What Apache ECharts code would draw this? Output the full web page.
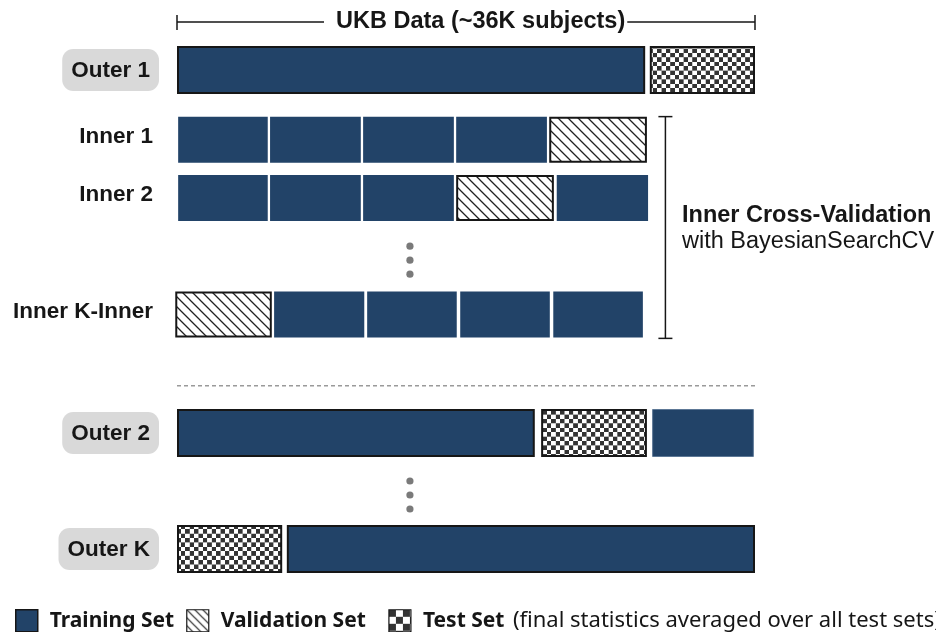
<!DOCTYPE html>
<html><head><meta charset="utf-8">
<script src="https://cdn.jsdelivr.net/npm/echarts@6/dist/echarts.min.js"></script>
<style>html,body{margin:0;padding:0;background:#fff}#c{width:936px;height:632px}</style>
</head><body><div id="c"></div>
<script>
// ---------- data ----------
const topRows = ['Outer 1'];
const innerRows = ['Inner 1', 'Inner 2', '⋮', 'Inner K-Inner'];
const bottomRows = ['Outer 2', '⋮', 'Outer K'];
// [row, start (% of data), end (% of data)]
const trainingSegments = [
  ['Outer 1', 0, 81.0],
  ['Inner 1', 0.2, 15.7], ['Inner 1', 16.1, 31.8], ['Inner 1', 32.2, 47.9], ['Inner 1', 48.3, 64.0],
  ['Inner 2', 0.2, 15.7], ['Inner 2', 16.1, 31.8], ['Inner 2', 32.2, 47.9], ['Inner 2', 65.7, 81.5],
  ['Inner K-Inner', 16.8, 32.4], ['Inner K-Inner', 32.9, 48.4], ['Inner K-Inner', 49.0, 64.5], ['Inner K-Inner', 65.1, 80.6],
  ['Outer 2', 0, 61.9], ['Outer 2', 82.2, 99.8],
  ['Outer K', 19.0, 100]
];
const validationSegments = [
  ['Inner 1', 64.4, 81.3], ['Inner 2', 48.3, 65.2], ['Inner K-Inner', -0.3, 16.4]
];
const testSegments = [
  ['Outer 1', 81.8, 100], ['Outer 2', 63.0, 81.3], ['Outer K', 0, 18.2]
];
const ellipsisX = 40.3;
const innerBracketX = 84.5;
const legendNames = ['Training Set', 'Validation Set', 'Test Set'];
const legendNote = '(final statistics averaged over all test sets)';
const dataTitle = 'UKB Data (~36K subjects)';
const innerCVTitle = 'Inner Cross-Validation';
const innerCVSub = 'with BayesianSearchCV';

// ---------- styles ----------
const NAVY = '#224368';
const INK = '#161616';
function makeChecker(cell) {
  const c = document.createElement('canvas'); c.width = c.height = cell * 2;
  const g = c.getContext('2d'); g.fillStyle = '#fff'; g.fillRect(0, 0, cell * 2, cell * 2);
  g.fillStyle = '#333'; g.fillRect(0, 0, cell, cell); g.fillRect(cell, cell, cell, cell);
  return c;
}
function makeHatch(s, lw) {
  const c = document.createElement('canvas'); c.width = c.height = s;
  const g = c.getContext('2d'); g.fillStyle = '#fff'; g.fillRect(0, 0, s, s);
  g.strokeStyle = '#222'; g.lineWidth = lw; g.beginPath();
  g.moveTo(-1, -1); g.lineTo(s + 1, s + 1);
  g.moveTo(s - 2, -2); g.lineTo(s + 2, 2);
  g.moveTo(-2, s - 2); g.lineTo(2, s + 2);
  g.stroke();
  return c;
}
const checkerFill = { image: makeChecker(9), repeat: 'repeat', scaleX: 0.49, scaleY: 0.49 };
const checkerIcon = { image: makeChecker(7), repeat: 'repeat' };
const hatchFill = { image: makeHatch(10, 1.3), repeat: 'repeat' };
const hatchIcon = { image: makeHatch(8, 1.2), repeat: 'repeat' };

const FONT = 'Liberation Sans';
const grids = [
  { rows: topRows, top: 40, height: 60, outer: true },
  { rows: innerRows, top: 110.5, height: 233, outer: false },
  { rows: bottomRows, top: 404, height: 174, outer: true }
];

const typeDefs = [
  { name: legendNames[0], segs: trainingSegments, kind: 'train' },
  { name: legendNames[1], segs: validationSegments, kind: 'val' },
  { name: legendNames[2], segs: testSegments, kind: 'test' }
];

function segRender(kind, outer) {
  return function (params, api) {
    const s = api.coord([api.value(0), api.value(2)]);
    const e = api.coord([api.value(1), api.value(2)]);
    const h = outer ? 48 : 46;
    let style, lw = 0;
    if (kind === 'train') {
      const fullSpan = outer && (api.value(0) <= 0.01 || api.value(1) >= 99.99);
      lw = outer ? (fullSpan ? 2 : 1) : 0;
      style = { fill: NAVY, stroke: outer ? (fullSpan ? INK : '#5d7896') : null, lineWidth: lw };
    } else if (kind === 'val') {
      lw = 2; style = { fill: hatchFill, stroke: INK, lineWidth: lw };
    } else {
      lw = 2; style = { fill: checkerFill, stroke: INK, lineWidth: lw };
    }
    return {
      type: 'rect',
      shape: { x: s[0] + lw / 2, y: s[1] - h / 2 + lw / 2, width: e[0] - s[0] - lw, height: h - lw },
      style: style
    };
  };
}

const series = [];
grids.forEach((g, gi) => {
  typeDefs.forEach(t => {
    const d = t.segs.filter(r => g.rows.includes(r[0])).map(r => [r[1], r[2], r[0]]);
    if (!d.length) return;
    series.push({
      type: 'custom', name: t.name, xAxisIndex: gi, yAxisIndex: gi,
      dimensions: ['start', 'end', 'row'], encode: { x: [0, 1], y: 2 },
      renderItem: segRender(t.kind, g.outer), data: d, silent: true
    });
  });
  if (g.rows.includes('⋮')) {
    series.push({
      type: 'custom', name: 'ellipsis', xAxisIndex: gi, yAxisIndex: gi,
      encode: { x: 0, y: 1 }, data: [[ellipsisX, '⋮']], silent: true,
      renderItem: function (params, api) {
        const c = api.coord([api.value(0), api.value(1)]);
        return { type: 'group', children: [-10, 4, 18].map(dy => ({
          type: 'circle', shape: { cx: c[0], cy: c[1] + dy, r: 3.6 }, style: { fill: '#7a7a7a' } })) };
      }
    });
  }
});

const option = {
  animation: false,
  backgroundColor: '#fff',
  grid: grids.map(g => ({ left: 177, right: 181, top: g.top, height: g.height })),
  xAxis: grids.map((g, i) => ({ type: 'value', gridIndex: i, min: 0, max: 100, show: false })),
  yAxis: grids.map((g, i) => ({
    type: 'category', gridIndex: i, data: g.rows, inverse: true,
    axisLine: { show: false }, axisTick: { show: false }, splitLine: { show: false },
    axisLabel: {
      margin: 18,
      formatter: v => v === '⋮' ? '' : (v.indexOf('Outer') === 0 ? '{o|' + v + '}' : '{i|' + v + '}'),
      rich: {
        o: { fontFamily: FONT, fontWeight: 'bold', fontSize: 22.5, color: INK, backgroundColor: '#d9d9d9',
             borderRadius: 11, padding: [10, 9, 9, 9], lineHeight: 24 },
        i: { fontFamily: FONT, fontWeight: 'bold', fontSize: 22.5, color: INK, padding: [0, 6, 6, 0], lineHeight: 24 }
      }
    }
  })),
  legend: {
    left: 10, top: 604, width: 1600, itemWidth: 22, itemHeight: 22, itemGap: 12, selectedMode: false,
    data: [
      { name: legendNames[0], icon: 'rect', itemStyle: { color: NAVY, borderColor: INK, borderWidth: 1.5 } },
      { name: legendNames[1], icon: 'rect', itemStyle: { color: hatchIcon, borderColor: INK, borderWidth: 1.2 } },
      { name: legendNames[2], icon: 'rect', itemStyle: { color: checkerIcon, borderColor: INK, borderWidth: 1.2 } }
    ],
    formatter: n => n === legendNames[2] ? '{b|' + n + '} {n|' + legendNote + '}'
      : (n === legendNames[1] ? '{b|' + n + '\u2002}' : '{b|' + n + '}'),
    textStyle: {
      fontFamily: 'Noto Sans', fontSize: 21, color: INK, padding: [0, 0, 0, 7],
      rich: {
        b: { fontFamily: 'Noto Sans', fontWeight: 'bold', fontSize: 21, color: INK },
        n: { fontFamily: 'Noto Sans', fontWeight: 'normal', fontSize: 22, color: INK, padding: [0, 0, 0, 3] }
      }
    }
  },
  series: series
};

const chart = echarts.init(document.getElementById('c'), null, { renderer: 'canvas' });
chart.setOption(option);

const px = v => chart.convertToPixel({ xAxisIndex: 0 }, v);
const x0 = px(0), x1 = px(100), xb = px(innerBracketX);
const yInnerTop = chart.convertToPixel({ yAxisIndex: 1 }, 'Inner 1') - 23;
const yInnerBot = chart.convertToPixel({ yAxisIndex: 1 }, 'Inner K-Inner') + 24;
const ySep = (chart.convertToPixel({ yAxisIndex: 1 }, 'Inner K-Inner') + chart.convertToPixel({ yAxisIndex: 2 }, 'Outer 2')) / 2 + 12;
const lineStyle = { stroke: INK, lineWidth: 1.5 };
chart.setOption({
  graphic: [
    { type: 'line', shape: { x1: x0, y1: 22, x2: x1, y2: 22 }, style: lineStyle, silent: true },
    { type: 'line', shape: { x1: x0, y1: 15, x2: x0, y2: 30 }, style: lineStyle, silent: true },
    { type: 'line', shape: { x1: x1, y1: 15, x2: x1, y2: 30 }, style: lineStyle, silent: true },
    { type: 'text', x: 324, y: 22, silent: true, style: { text: dataTitle, fontFamily: FONT, fontWeight: 'bold', fontSize: 23.5,
      fill: INK, align: 'left', verticalAlign: 'middle', backgroundColor: '#fff', padding: [0, 2, 0, 12] } },
    { type: 'line', shape: { x1: xb, y1: yInnerTop, x2: xb, y2: yInnerBot }, style: lineStyle, silent: true },
    { type: 'line', shape: { x1: xb - 7, y1: yInnerTop, x2: xb + 7, y2: yInnerTop }, style: lineStyle, silent: true },
    { type: 'line', shape: { x1: xb - 7, y1: yInnerBot, x2: xb + 7, y2: yInnerBot }, style: lineStyle, silent: true },
    { type: 'text', x: 682, y: 216, silent: true, style: { text: innerCVTitle, fontFamily: FONT, fontWeight: 'bold', fontSize: 23.5,
      fill: INK, align: 'left', verticalAlign: 'middle' } },
    { type: 'text', x: 682, y: 242, silent: true, style: { text: innerCVSub, fontFamily: FONT, fontWeight: 'normal', fontSize: 23.5,
      fill: INK, align: 'left', verticalAlign: 'middle' } },
    { type: 'line', shape: { x1: x0, y1: ySep, x2: x1, y2: ySep }, style: { stroke: '#9a9a9a', lineWidth: 1.5, lineDash: [4, 3] }, silent: true }
  ]
});
</script></body></html>
